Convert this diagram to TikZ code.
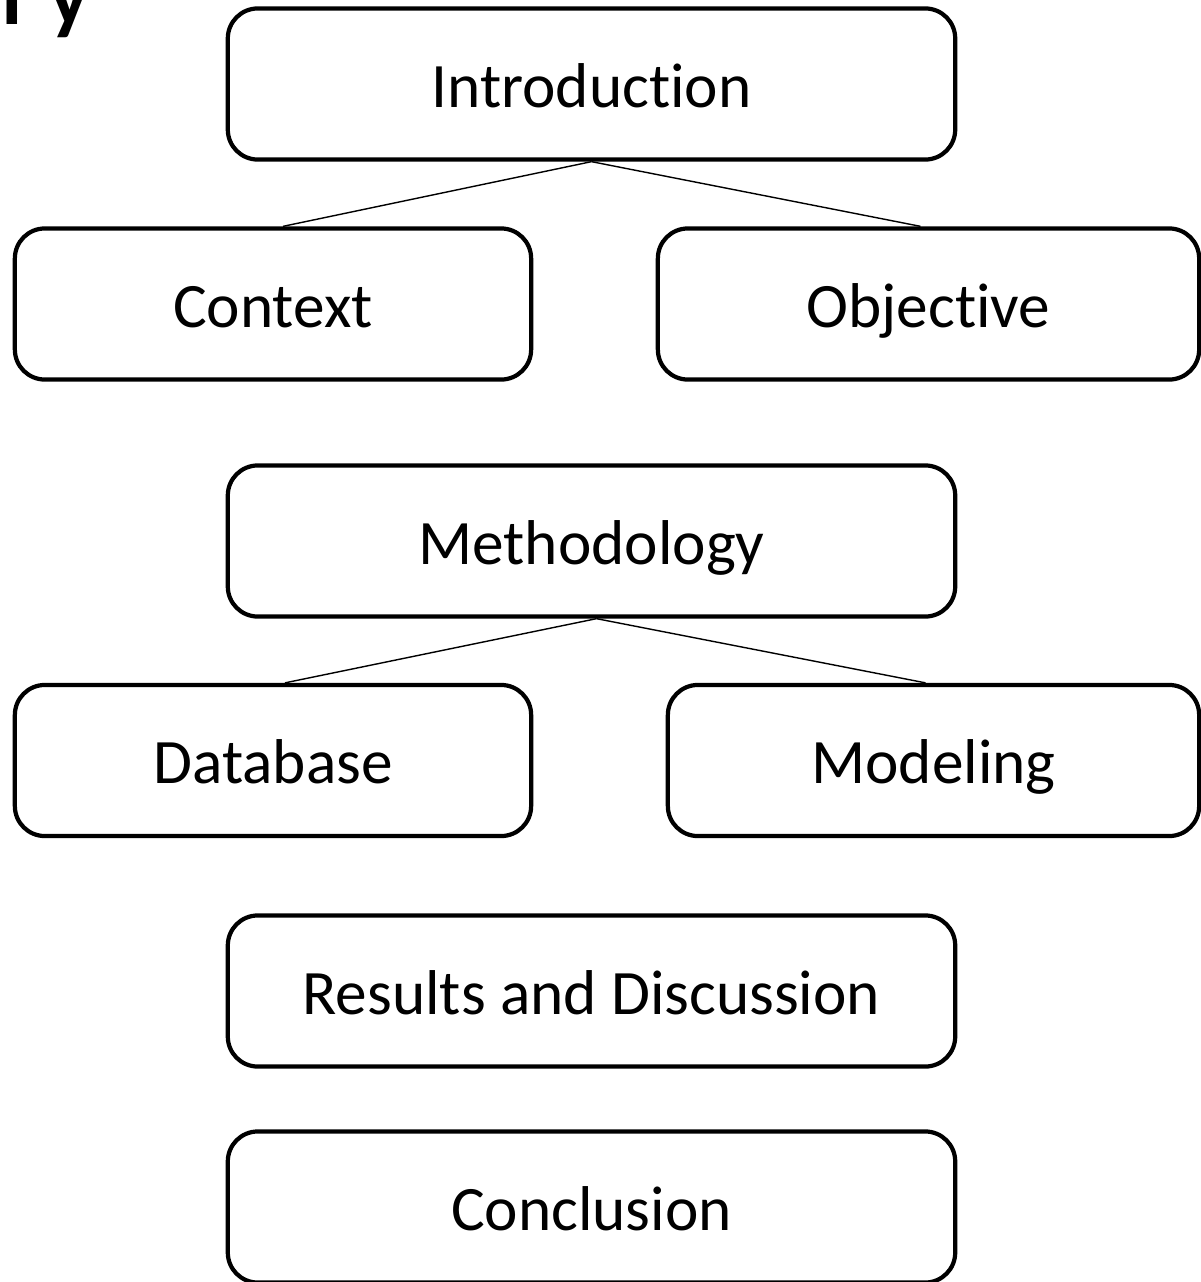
\documentclass[tikz,border=0pt]{standalone}
\usepackage{fontspec}
\setmainfont[Ligatures=NoCommon]{Carlito}
\usetikzlibrary{positioning}

\begin{document}
\begin{tikzpicture}[
  x=0.01cm, y=-0.01cm,
  font=\fontsize{18}{21}\selectfont,
  sec/.style={draw, line width=1.2pt, rounded corners=0.3cm, align=center, inner sep=0pt,
    text height=0.5cm, text depth=0.04cm, minimum height=1.51cm},
  link/.style={line width=0.4pt}
]
\useasboundingbox (0,0) rectangle (1200,1282);
% clipped title
\node[anchor=base west, inner sep=0pt, font=\fontsize{24}{28}\selectfont\bfseries] (title) at (2,25) {r\hspace{0.2em}y};
% upper part
\node[sec, minimum width=7.27cm] (intro) at (591.5,84) {Introduction};
\node[sec, minimum width=5.16cm] (ctx) at (273,304) {Context};
\node[sec, minimum width=5.41cm] (obj) at (928.5,304) {Objective};
% method part
\node[sec, minimum width=7.27cm] (meth) at (591.5,541) {Methodology};
\node[sec, minimum width=5.16cm] (data) at (273,760.5) {Database};
\node[sec, minimum width=5.31cm] (model) at (933.5,760.5) {Modeling};
% last sections
\node[sec, minimum width=7.27cm] (res) at (591.5,991) {Results and Discussion};
\node[sec, minimum width=7.27cm] (concl) at (591.5,1207) {Conclusion};
\draw[link] (intro.south) -- ([xshift=0.1cm]ctx.north);
\draw[link] (intro.south) -- ([xshift=-0.08cm]obj.north);
\draw[link] ([xshift=0.05cm]meth.south) -- ([xshift=0.12cm]data.north);
\draw[link] ([xshift=0.05cm]meth.south) -- ([xshift=-0.08cm]model.north);
\end{tikzpicture}
\end{document}
